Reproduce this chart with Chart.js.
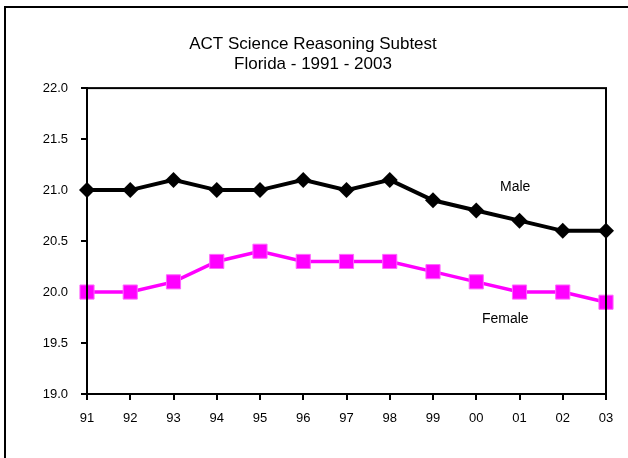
<!DOCTYPE html>
<html>
<head>
<meta charset="utf-8">
<script src="https://cdn.jsdelivr.net/npm/chart.js@4/dist/chart.umd.min.js"></script>
<style>
  body { margin: 0; background: #fff; }
  #wrap { width: 628px; height: 458px; }
</style>
</head>
<body>
<div id="wrap"><canvas id="actChart" width="628" height="458"></canvas></div>
<script>
// data
const years = ['91', '92', '93', '94', '95', '96', '97', '98', '99', '00', '01', '02', '03'];
const maleScores = [21.0, 21.0, 21.1, 21.0, 21.0, 21.1, 21.0, 21.1, 20.9, 20.8, 20.7, 20.6, 20.6];
const femaleScores = [20.0, 20.0, 20.1, 20.3, 20.4, 20.3, 20.3, 20.3, 20.2, 20.1, 20.0, 20.0, 19.9];
const titleLines = ['ACT Science Reasoning Subtest', 'Florida - 1991 - 2003'];

const FONT = 'Arial, "Liberation Sans", sans-serif';

// outer frame + plot box + series labels
const framePlugin = {
    id: 'frame',
    beforeDraw(chart) {
        const c = chart.ctx;
        c.save();
        c.fillStyle = '#fff';
        c.fillRect(0, 0, chart.width, chart.height);
        c.strokeStyle = '#000';
        c.lineWidth = 2;
        c.beginPath();
        c.moveTo(5, chart.height);
        c.lineTo(5, 7);
        c.lineTo(chart.width, 7);
        c.stroke();
        c.restore();
    },
    afterDatasetsDraw(chart) {
        const c = chart.ctx;
        const a = chart.chartArea;
        const x = chart.scales.x, y = chart.scales.y;
        c.save();
        c.strokeStyle = '#000';
        c.lineWidth = 2;
        c.strokeRect(a.left, a.top, a.right - a.left, a.bottom - a.top);
        c.fillStyle = '#000';
        c.font = '14px ' + FONT;
        c.textAlign = 'center';
        c.textBaseline = 'middle';
        c.fillText('Male', x.getPixelForValue(9.9), y.getPixelForValue(21.03));
        c.fillText('Female', x.getPixelForValue(9.67), y.getPixelForValue(19.73));
        c.restore();
    }
};

const config = {
    type: 'line',
    data: {
        labels: years,
        datasets: [
            {
                label: 'Male',
                data: maleScores,
                borderColor: '#000',
                backgroundColor: '#000',
                borderWidth: 4,
                pointStyle: 'rectRot',
                pointRadius: 8,
                pointBorderWidth: 0,
                tension: 0
            },
            {
                label: 'Female',
                data: femaleScores,
                borderColor: '#ff00ff',
                backgroundColor: '#ff00ff',
                borderWidth: 3.5,
                pointStyle: 'rect',
                pointRadius: 10,
                pointBorderWidth: 1,
                pointBorderColor: '#ff66ff',
                tension: 0
            }
        ]
    },
    options: {
        responsive: false,
        animation: false,
        layout: { padding: { left: 20, right: 22, top: 0, bottom: 0 } },
        plugins: {
            legend: { display: false },
            tooltip: { enabled: false },
            title: {
                display: true,
                text: titleLines,
                color: '#000',
                font: { family: FONT, size: 17, weight: 'normal', lineHeight: 1.18 },
                padding: { top: 34, bottom: 14 }
            }
        },
        scales: {
            x: {
                offset: false,
                grid: { display: true, drawOnChartArea: false, color: '#000', lineWidth: 2, tickLength: 6 },
                border: { display: true, color: '#000', width: 2 },
                ticks: { color: '#000', font: { family: FONT, size: 13 }, padding: 11, maxRotation: 0, autoSkip: false },
                afterFit(scale) { scale.height = 64; }
            },
            y: {
                min: 19.0,
                max: 22.0,
                grid: { display: true, drawOnChartArea: false, color: '#000', lineWidth: 2, tickLength: 6 },
                border: { display: true, color: '#000', width: 2 },
                ticks: {
                    stepSize: 0.5,
                    color: '#000',
                    font: { family: FONT, size: 13 },
                    padding: 13,
                    callback: v => v.toFixed(1)
                },
                afterFit(scale) { scale.width = 67; }
            }
        }
    },
    plugins: [framePlugin]
};

new Chart(document.getElementById('actChart').getContext('2d'), config);
</script>
</body>
</html>
